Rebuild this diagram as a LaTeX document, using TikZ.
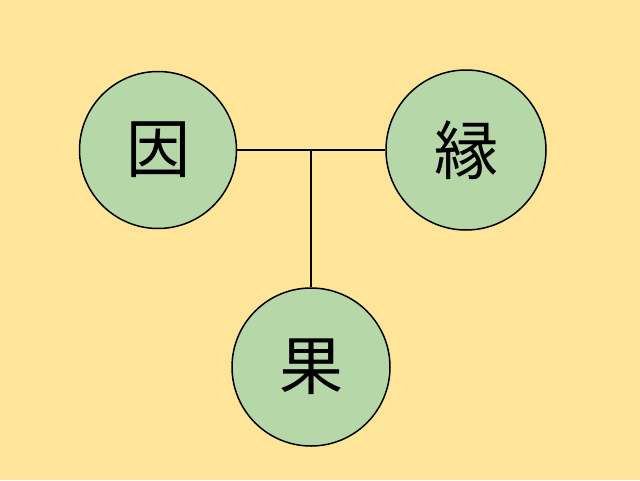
\documentclass[tikz,border=0pt]{standalone}
\usepackage{fontspec}
\newfontfamily\cjk{Noto Sans CJK JP}
\definecolor{bg}{RGB}{255,229,153}
\definecolor{gr}{RGB}{182,215,168}
\begin{document}
\begin{tikzpicture}[x=1pt,y=-1pt,
  circ/.style={circle,draw=black,line width=1.5pt,fill=gr,minimum size=157pt,inner sep=0pt,font=\cjk\fontsize{64}{64}\selectfont},
  conn/.style={line width=1.8pt}]
\fill[bg] (0,0) rectangle (640,480);
\useasboundingbox (0,0) rectangle (640,480);
\node[circ] (a) at (158,150) {因};
\node[circ,minimum size=160pt] (b) at (466,150) {縁};
\node[circ,minimum size=158pt] (c) at (311,367) {果};
\coordinate (j) at (311,150);
\draw[conn] (a.east) -- (b.west);
\draw[conn] (j) -- (c.north);
\end{tikzpicture}
\end{document}
